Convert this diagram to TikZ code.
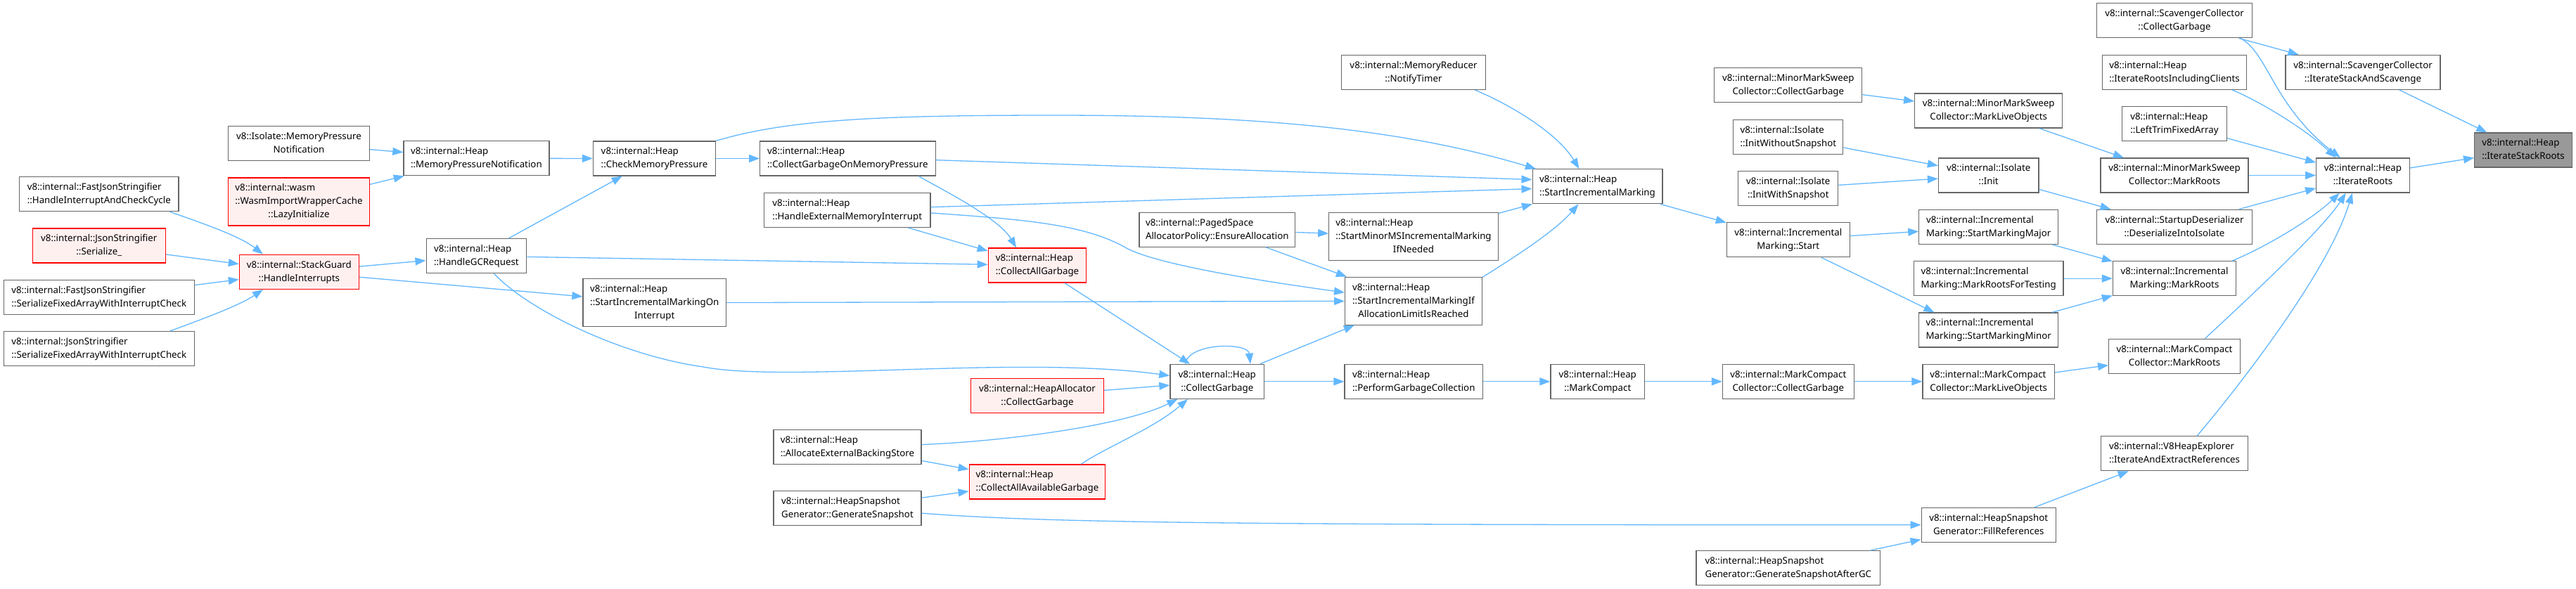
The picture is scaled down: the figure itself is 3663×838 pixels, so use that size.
\documentclass[tikz,border=0pt]{standalone}
\usepackage{fontspec}
\setmainfont{Noto Sans}
\usetikzlibrary{arrows.meta}
\definecolor{edgec}{HTML}{63B8FF}
\definecolor{bord}{HTML}{666666}
\definecolor{redb}{HTML}{FF0000}
\definecolor{redf}{HTML}{FFF0F0}
\definecolor{grayf}{HTML}{999999}
\newcommand\ntwo[2]{\begin{tabular}{@{}l@{}}#1\\\multicolumn{1}{@{}c@{}}{#2}\end{tabular}}
\newcommand\nthree[3]{\begin{tabular}{@{}l@{}}#1\\#2\\\multicolumn{1}{@{}c@{}}{#3}\end{tabular}}
\begin{document}
\begin{tikzpicture}[x=1pt,y=-1pt,
 box/.style={draw=bord, line width=1.2pt, fill=white, rectangle, inner sep=0pt, minimum height=49pt, font=\fontsize{13.3}{19}\selectfont},
 box3/.style={box, minimum height=68pt},
 redbox/.style={draw=redb, fill=redf},
 graybox/.style={fill=grayf},
 edge/.style={draw=edgec, line width=1.3pt, -{Triangle[length=15pt,width=11pt]}}]
\path[use as bounding box, fill=white] (0,0) rectangle (3663,838);

\node[box, minimum width=201pt] (isompn) at (425,204.2) {\ntwo{v8::Isolate::MemoryPressure}{Notification}};
\node[box, minimum width=207pt] (heapmpn) at (677.4,225.3) {\ntwo{v8::internal::Heap}{::MemoryPressureNotification}};
\node[box3, redbox, minimum width=201pt] (wasm) at (425,287) {\nthree{v8::internal::wasm}{::WasmImportWrapperCache}{::LazyInitialize}};
\node[box, minimum width=226.4pt] (fjshic) at (140.8,276.2) {\ntwo{v8::internal::FastJsonStringifier}{::HandleInterruptAndCheckCycle}};
\node[box, redbox, minimum width=189pt] (jsser) at (140.8,349.5) {\ntwo{v8::internal::JsonStringifier}{::Serialize\_}};
\node[box, redbox, minimum width=170pt] (stackguard) at (425.4,386.8) {\ntwo{v8::internal::StackGuard}{::HandleInterrupts}};
\node[box, minimum width=271pt] (fjssfa) at (140.8,422.8) {\ntwo{v8::internal::FastJsonStringifier}{::SerializeFixedArrayWithInterruptCheck}};
\node[box, minimum width=271pt] (jssfa) at (140.8,496.2) {\ntwo{v8::internal::JsonStringifier}{::SerializeFixedArrayWithInterruptCheck}};
\node[box, minimum width=142.6pt] (hgcr) at (677.4,364.2) {\ntwo{v8::internal::Heap}{::HandleGCRequest}};
\node[box, minimum width=174pt] (cmp) at (930.5,225.5) {\ntwo{v8::internal::Heap}{::CheckMemoryPressure}};
\node[box3, minimum width=203.6pt] (simoi) at (930.8,430.8) {\nthree{v8::internal::Heap}{::StartIncrementalMarkingOn}{Interrupt}};
\node[box, minimum width=249.4pt] (cgomp) at (1205.4,225.5) {\ntwo{v8::internal::Heap}{::CollectGarbageOnMemoryPressure}};
\node[box, minimum width=236.4pt] (hemi) at (1204.8,298.8) {\ntwo{v8::internal::Heap}{::HandleExternalMemoryInterrupt}};
\node[box, redbox, minimum width=139.6pt] (cag) at (1475,377.5) {\ntwo{v8::internal::Heap}{::CollectAllGarbage}};
\node[box, minimum width=210pt] (aebs) at (1205,636.2) {\ntwo{v8::internal::Heap}{::AllocateExternalBackingStore}};
\node[box, minimum width=210pt] (gensnap) at (1205,722.8) {\ntwo{v8::internal::HeapSnapshot}{Generator::GenerateSnapshot}};
\node[box, redbox, minimum width=189pt] (hacg) at (1475,562.8) {\ntwo{v8::internal::HeapAllocator}{::CollectGarbage}};
\node[box, redbox, minimum width=193.6pt] (caag) at (1475,685.5) {\ntwo{v8::internal::Heap}{::CollectAllAvailableGarbage}};
\node[box, minimum width=221.7pt] (ensalloc) at (1730.8,326.7) {\ntwo{v8::internal::PagedSpace}{AllocatorPolicy::EnsureAllocation}};
\node[box, minimum width=133.8pt] (hcg) at (1730.8,542.8) {\ntwo{v8::internal::Heap}{::CollectGarbage}};
\node[box, minimum width=205.3pt] (notify) at (2010,103) {\ntwo{v8::internal::MemoryReducer}{::NotifyTimer}};
\node[box3, minimum width=240.5pt] (sminor) at (2010,336.2) {\nthree{v8::internal::Heap}{::StartMinorMSIncrementalMarking}{IfNeeded}};
\node[box3, minimum width=194.8pt] (simalr) at (2010,428.2) {\nthree{v8::internal::Heap}{::StartIncrementalMarkingIf}{AllocationLimitIsReached}};
\node[box, minimum width=196.6pt] (pgc) at (2010.3,542.8) {\ntwo{v8::internal::Heap}{::PerformGarbageCollection}};
\node[box, minimum width=184.8pt] (sim) at (2271.5,265.3) {\ntwo{v8::internal::Heap}{::StartIncrementalMarking}};
\node[box, minimum width=133.8pt] (mc) at (2271.8,542.8) {\ntwo{v8::internal::Heap}{::MarkCompact}};
\node[box, minimum width=210pt] (mmscg) at (2542.8,121.3) {\ntwo{v8::internal::MinorMarkSweep}{Collector::CollectGarbage}};
\node[box, minimum width=156pt] (iwos) at (2542.8,195) {\ntwo{v8::internal::Isolate}{::InitWithoutSnapshot}};
\node[box, minimum width=142pt] (iws) at (2542.8,268) {\ntwo{v8::internal::Isolate}{::InitWithSnapshot}};
\node[box, minimum width=174.9pt] (imstart) at (2542.8,341.3) {\ntwo{v8::internal::Incremental}{Marking::Start}};
\node[box, minimum width=186.6pt] (mccg) at (2542.8,542.8) {\ntwo{v8::internal::MarkCompact}{Collector::CollectGarbage}};
\node[box, minimum width=261.7pt] (gsagc) at (2542.8,808.3) {\ntwo{v8::internal::HeapSnapshot}{Generator::GenerateSnapshotAfterGC}};
\node[box, minimum width=210pt] (mmsmlo) at (2827.7,157.5) {\ntwo{v8::internal::MinorMarkSweep}{Collector::MarkLiveObjects}};
\node[box, minimum width=142.5pt] (init) at (2827.7,249.5) {\ntwo{v8::internal::Isolate}{::Init}};
\node[box, minimum width=197.7pt] (smmaj) at (2827.7,322.8) {\ntwo{v8::internal::Incremental}{Marking::StartMarkingMajor}};
\node[box, minimum width=212.5pt] (mrft) at (2827.7,396.2) {\ntwo{v8::internal::Incremental}{Marking::MarkRootsForTesting}};
\node[box, minimum width=197.7pt] (smmin) at (2827.7,469.5) {\ntwo{v8::internal::Incremental}{Marking::StartMarkingMinor}};
\node[box, minimum width=187.3pt] (mcmlo) at (2827.7,542.8) {\ntwo{v8::internal::MarkCompact}{Collector::MarkLiveObjects}};
\node[box, minimum width=191pt] (fillref) at (2827.7,746.8) {\ntwo{v8::internal::HeapSnapshot}{Generator::FillReferences}};
\node[box, minimum width=220.5pt] (scavcg) at (3092,29.3) {\ntwo{v8::internal::ScavengerCollector}{::CollectGarbage}};
\node[box, minimum width=205.7pt] (irinc) at (3092,102.8) {\ntwo{v8::internal::Heap}{::IterateRootsIncludingClients}};
\node[box, minimum width=149pt] (ltfa) at (3092,176.2) {\ntwo{v8::internal::Heap}{::LeftTrimFixedArray}};
\node[box, minimum width=210pt] (mmsmr) at (3092,249.5) {\ntwo{v8::internal::MinorMarkSweep}{Collector::MarkRoots}};
\node[box, minimum width=220.5pt] (sdii) at (3092,322.8) {\ntwo{v8::internal::StartupDeserializer}{::DeserializeIntoIsolate}};
\node[box, minimum width=175pt] (immr) at (3092,396.2) {\ntwo{v8::internal::Incremental}{Marking::MarkRoots}};
\node[box, minimum width=186.7pt] (mcmr) at (3092,506.8) {\ntwo{v8::internal::MarkCompact}{Collector::MarkRoots}};
\node[box, minimum width=209.4pt] (v8he) at (3092,645.3) {\ntwo{v8::internal::V8HeapExplorer}{::IterateAndExtractReferences}};
\node[box, minimum width=220pt] (isas) at (3360,102.8) {\ntwo{v8::internal::ScavengerCollector}{::IterateStackAndScavenge}};
\node[box, minimum width=132.6pt] (iroots) at (3360,249.5) {\ntwo{v8::internal::Heap}{::IterateRoots}};
\node[box, graybox, minimum width=138.8pt] (isr) at (3588,213.5) {\ntwo{v8::internal::Heap}{::IterateStackRoots}};

% right part
\draw[edge] (iroots) -- (isr);
\draw[edge] (isas) -- (isr);
\draw[edge] (scavcg) -- (isas);
\draw[edge] (scavcg.-15) .. controls (3225,75) and (3232,150) .. (iroots.142);
\draw[edge] (irinc.-17) .. controls (3215,145) and (3280,185) .. (iroots.147);
\draw[edge] (ltfa) -- (iroots);
\draw[edge] (mmsmr) -- (iroots);
\draw[edge] (sdii) -- (iroots);
\draw[edge] (immr.17) .. controls (3225,350) and (3290,310) .. (iroots.-143);
\draw[edge] (mcmr.30) .. controls (3180,440) and (3300,330) .. (iroots.-134);
\draw[edge] (v8he.38) .. controls (3175,560) and (3310,390) .. (iroots.-121);
\draw[edge] (mmsmlo) -- (mmsmr);
\draw[edge] (mmscg) -- (mmsmlo);
\draw[edge] (init) -- (sdii);
\draw[edge] (iwos) -- (init);
\draw[edge] (iws) -- (init);
\draw[edge] (smmaj) -- (immr);
\draw[edge] (mrft) -- (immr);
\draw[edge] (smmin) -- (immr);
\draw[edge] (imstart) -- (smmaj);
\draw[edge] (imstart.-28.8) -- (smmin.162.5);
\draw[edge] (sim) -- (imstart);
\draw[edge] (mcmlo) -- (mcmr);
\draw[edge] (mccg) -- (mcmlo);
\draw[edge] (mc) -- (mccg);
\draw[edge] (pgc) -- (mc);
\draw[edge] (hcg) -- (pgc);
\draw[edge] (hcg.151) .. controls (1690,487) and (1775,487) .. (hcg.28);
\draw[edge] (hcg) -- (simalr);
\draw[edge] (fillref) -- (v8he);
\draw[edge] (gensnap.-4) .. controls (1480,743) and (1700,747) .. (fillref.west);
\draw[edge] (gsagc) -- (fillref);

% middle part
\draw[edge] (gensnap) -- (caag);
\draw[edge] (aebs) -- (caag);
\draw[edge] (aebs.2) .. controls (1430,628) and (1600,605) .. (hcg.-156.6);
\draw[edge] (caag.22) .. controls (1575,635) and (1640,610) .. (hcg.-149);
\draw[edge] (hacg) -- (hcg);
\draw[edge] (cag) -- (hcg);
\draw[edge] (hgcr.-45) .. controls (750,440) and (880,505) .. (1000,522) .. controls (1120,545) and (1450,505) .. (hcg.173);
\draw[edge] (hgcr) -- (cag);
\draw[edge] (hgcr) -- (cmp);
\draw[edge] (stackguard) -- (hgcr);
\draw[edge] (stackguard) -- (simoi);
\draw[edge] (simoi) -- (simalr);
\draw[edge] (ensalloc) -- (sminor);
\draw[edge] (ensalloc) -- (simalr);
\draw[edge] (sminor) -- (sim);
\draw[edge] (simalr.19) .. controls (2150,368) and (2210,330) .. (sim.-137);
\draw[edge] (notify.-16) .. controls (2150,150) and (2215,190) .. (sim.136);
\draw[edge] (cmp.16) .. controls (1120,170) and (1250,164) .. (1500,164) .. controls (1800,164) and (2000,185) .. (sim.164);
\draw[edge] (cgomp.-1) -- (sim.174.7);
\draw[edge] (hemi.2) -- (sim.182);
\draw[edge] (hemi) -- (cag);
\draw[edge] (hemi.-2) .. controls (1450,312) and (1540,318) .. (1600,352) .. controls (1640,375) and (1780,398) .. (simalr.173);
\draw[edge] (cgomp.-14) .. controls (1340,270) and (1420,310) .. (cag.140);
\draw[edge] (cmp) -- (cgomp);
\draw[edge] (heapmpn) -- (cmp);

% left part
\draw[edge] (isompn) -- (heapmpn);
\draw[edge] (wasm) -- (heapmpn);
\draw[edge] (fjshic.-14) .. controls (280,315) and (340,335) .. (stackguard.154);
\draw[edge] (jsser) -- (stackguard);
\draw[edge] (fjssfa) -- (stackguard);
\draw[edge] (jssfa.14) .. controls (285,455) and (340,435) .. (stackguard.-154);
\end{tikzpicture}
\end{document}
